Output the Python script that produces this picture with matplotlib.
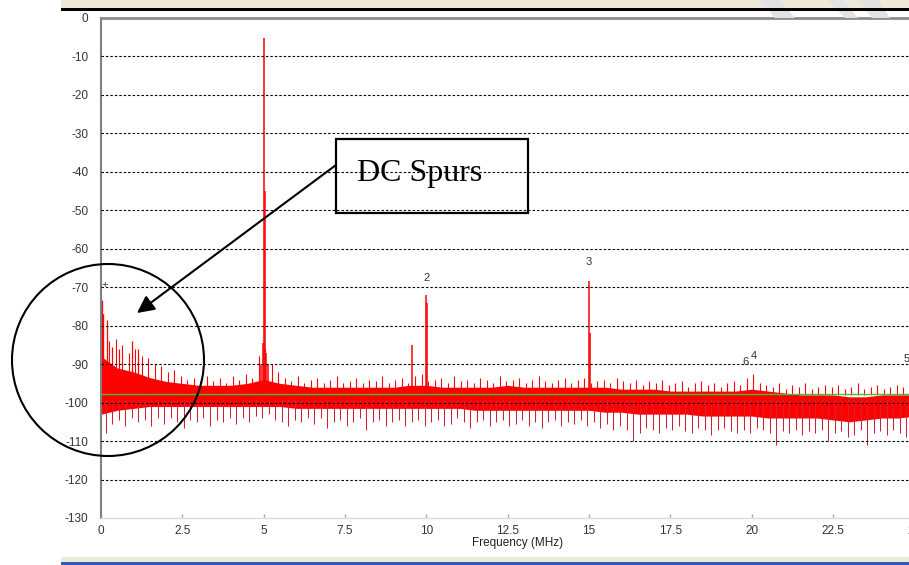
import numpy as np
import matplotlib
matplotlib.use('Agg')
import matplotlib.pyplot as plt
from matplotlib.patches import Rectangle, Ellipse, Polygon, FancyArrowPatch

# -------------------------- 数据--------------------------
# 噪底主体：每 0.5 MHz 的上下包络 (dB)
band_freq = np.arange(0, 25.51, 0.5)
band_top = [-88, -91, -92, -93.5, -94.5, -95, -95.5, -95.5, -95.5, -95, -94,
            -95, -95.5, -96, -96, -96, -96, -96, -96, -95.5, -95.5, -96, -96,
            -96, -96, -95.5, -96, -96, -96, -96, -96, -96, -96.5, -96.5, -96.5,
            -97, -97, -97, -97, -97, -96.5, -97, -97.5, -98, -98, -98, -98.5,
            -98.5, -98, -98, -98, -98]
band_bot = [-103, -102, -101.5, -101, -101, -101, -101, -101, -101, -101, -101,
            -101, -101.5, -101.5, -101.5, -101.5, -101.5, -101.5, -101.5,
            -101.5, -101.5, -101.5, -101.5, -102, -102, -102, -102, -102, -102,
            -102, -102, -102.5, -102.5, -103, -103, -103, -103, -103.5, -103.5,
            -103.5, -103.5, -104, -104, -104, -104, -104.5, -105, -104.5, -104,
            -104, -103.5, -103.5]

# 向上的噪声毛刺：每 0.2 MHz 一根 (dB)
up_f = np.arange(0.05, 25.6, 0.2)
up_db = [-77, -84, -83.5, -85, -87, -86, -88, -88.5, -90, -90.5, -92, -91.5, -93, -94, -93.5, -94.5,
         -93, -94.5, -93.5, -95, -93, -94, -92.5, -93.5, -88, -86, -90, -92, -93.5, -94.5, -93, -95,
         -94, -93.5, -95, -94, -93, -95, -94.5, -93.5, -95, -94, -94.5, -93, -95, -94, -93.5, -95,
         -93, -92.5, -94.5, -94, -93.5, -95, -93, -94.5, -94, -95, -93.5, -94, -95, -93, -94.5, -94,
         -93.5, -95, -94, -93, -94.5, -95, -94, -93.5, -95, -94, -93.5, -95, -94.5, -94, -95, -93.5,
         -94.5, -95, -94, -95.5, -94.5, -95, -94, -95.5, -95, -94.5, -96, -95, -94.5, -95.5, -95, -96,
         -95, -94.5, -95.5, -93.5, -92.5, -95, -95.5, -96, -95, -96.5, -95.5, -96, -95, -96.5, -96, -95.5,
         -96, -95.5, -96.5, -96, -95, -96.5, -96, -95.5, -96.5, -96, -95.5, -96, -95, -96, -94.5, -96]

# 向下的噪声毛刺：每 0.2 MHz 一根 (dB)
dn_f = np.arange(0.15, 25.6, 0.2)
dn_db = [-108, -105.5, -104.5, -106, -104, -105, -104.5, -106, -104, -105.5, -104, -105, -106.5, -104.5, -105, -104,
         -106, -104.5, -105, -104, -105.5, -104, -105, -103.5, -104, -103, -104.5, -105, -106, -104.5, -105, -104,
         -105.5, -104, -106.5, -105, -104.5, -106, -105, -104, -107, -105, -104.5, -106, -105, -104.5, -106, -105,
         -104.5, -106, -105, -104.5, -106, -105.5, -104, -105, -106.5, -105, -104.5, -106, -105, -104.5, -106, -105.5,
         -104.5, -106, -105, -106.5, -105, -104.5, -106, -105, -105.5, -104.5, -106, -105, -106.5, -105.5, -107, -106,
         -107, -110, -108, -106.5, -107, -108, -106.5, -107, -106, -107.5, -108, -106.5, -107, -108.5, -107, -106.5,
         -107.5, -108, -107, -108, -106.5, -107, -108, -111, -107.5, -108, -107, -108.5, -107.5, -108, -107, -110,
         -108, -107.5, -109, -108.5, -107, -111, -108, -107.5, -108.5, -107, -108, -109, -107.5, -108, -107, -108]

# 直流附近的杂散 (MHz, dB)
dc_f = [0.03, 0.07, 0.17, 0.35, 0.55, 0.95, 1.15]
dc_db = [-73.3, -77, -78.5, -85.5, -86, -84, -86]

# 主信号与谐波杂散 (MHz, dB)
tone_f = [4.93, 4.97, 5.0, 5.03, 5.07, 5.12, 9.55, 9.98, 10.03, 15.0, 15.04]
tone_db = [-90, -84.5, -5.2, -45, -87, -90, -85, -72, -74, -68.4, -82]

# 谐波标记
marker_text = ['+', '2', '3', '6', '4', '5']
marker_f = [0.12, 10.0, 14.98, 19.8, 20.05, 24.75]
marker_db = [-69.5, -67.5, -63.5, -89.5, -87.8, -88.6]

noise_level = -97.8
y_ticks = list(range(0, -131, -10))
x_ticks = [0, 2.5, 5, 7.5, 10, 12.5, 15, 17.5, 20, 22.5, 25]
x_tick_labels = ['0', '2.5', '5', '7.5', '10', '12.5', '15', '17.5', '20', '22.5', '25']

# -------------------------- 画布 --------------------------
W, H = 909, 565
fig = plt.figure(figsize=(W / 100, H / 100), dpi=100)
fig.patch.set_facecolor('white')


def fx(x):
    return x / W


def fy(y):
    return 1 - y / H


ax = fig.add_axes([fx(101), fy(518), (934 - 101) / W, 500 / H])
ax.set_xlim(0, 25.6)
ax.set_ylim(-130, 0)

tick_font = {'family': 'Liberation Sans', 'size': 8.5, 'color': '#333333'}

# 网格（虚线）
for yv in y_ticks[1:-1]:
    ax.axhline(yv, color='black', lw=0.8, ls=(0, (2.2, 1.8)), zorder=4)

# 噪底
ax.fill_between(band_freq, band_bot, band_top, color='#ff0000', lw=0, zorder=2)
ax.vlines(up_f, -98, up_db, color='#ff0000', lw=0.8, zorder=2)
ax.vlines(dn_f, -99, dn_db, color='#cc2233', lw=0.75, zorder=2)
ax.vlines(dc_f, -98, dc_db, color='#ff0000', lw=0.9, zorder=2)
ax.vlines(tone_f, -98, tone_db, color='#ff0000', lw=1.1, zorder=3)

# 平均噪底线
ax.axhline(noise_level, color='#3ac43a', lw=1.0, zorder=5)

for t, f, d in zip(marker_text, marker_f, marker_db):
    ax.text(f, d, t, ha='center', va='center', fontsize=8, color='#333333',
            family='Liberation Sans', zorder=6)

ax.set_yticks(y_ticks)
ax.set_yticklabels([str(v) for v in y_ticks], fontdict=tick_font)
ax.set_xticks(x_ticks)
ax.set_xticklabels(x_tick_labels, fontdict=tick_font)
ax.tick_params(axis='y', length=0, pad=9)
ax.tick_params(axis='x', direction='in', length=3, width=1, color='#aaaaaa', pad=5)
ax.set_xlabel('Frequency (MHz)', fontdict={'family': 'Liberation Sans', 'size': 8.5,
                                             'color': '#222222'}, labelpad=0)

ax.spines['left'].set_color('#808080')
ax.spines['left'].set_linewidth(1.5)
ax.spines['top'].set_color('#8c8c8c')
ax.spines['top'].set_linewidth(2)
ax.spines['bottom'].set_color('#dddddd')
ax.spines['bottom'].set_linewidth(1)
ax.spines['right'].set_visible(False)

# -------------------------- 窗口边框 --------------------------
fig.add_artist(Rectangle((fx(61), fy(8)), 1, 8 / H, transform=fig.transFigure,
                         color='#ece9d8', lw=0, zorder=0))
for xs in ([760, 780, 795, 775], [828, 842, 858, 845], [858, 878, 890, 872]):
    fig.add_artist(Polygon([(fx(xs[0]), fy(0)), (fx(xs[1]), fy(0)),
                            (fx(xs[2]), fy(18)), (fx(xs[3]), fy(18))],
                           closed=True, transform=fig.transFigure,
                           color='#e2e2e2', lw=0, zorder=1))
fig.add_artist(Rectangle((fx(61), fy(10.5)), 1, 2.5 / H, transform=fig.transFigure,
                         color='black', lw=0, zorder=2))
fig.add_artist(Rectangle((fx(61), fy(562.5)), 1, 6 / H, transform=fig.transFigure,
                         color='#ece9d8', lw=0, zorder=2))
fig.add_artist(Rectangle((fx(61), 0), 1, 2.8 / H, transform=fig.transFigure,
                         color='#2a5db0', lw=0, zorder=2))

# -------------------------- 标注：DC Spurs --------------------------
fig.add_artist(Rectangle((fx(336), fy(213)), (528 - 336) / W, (213 - 139) / H,
                         transform=fig.transFigure, fill=False, ec='black',
                         lw=1.6, zorder=10))
fig.text(fx(357), fy(181), 'DC Spurs', family='Liberation Serif', fontsize=23,
         ha='left', va='baseline', zorder=11)
fig.add_artist(FancyArrowPatch((fx(336), fy(165)), (fx(137), fy(313)),
                               transform=fig.transFigure, arrowstyle='-|>',
                               mutation_scale=26, lw=1.5, color='black',
                               shrinkA=0, shrinkB=0, zorder=10))
fig.add_artist(Ellipse((fx(108), fy(360)), 192 / W, 192 / H,
                       transform=fig.transFigure, fill=False, ec='black',
                       lw=1.5, zorder=10))

fig.savefig('out.png', dpi=100)
